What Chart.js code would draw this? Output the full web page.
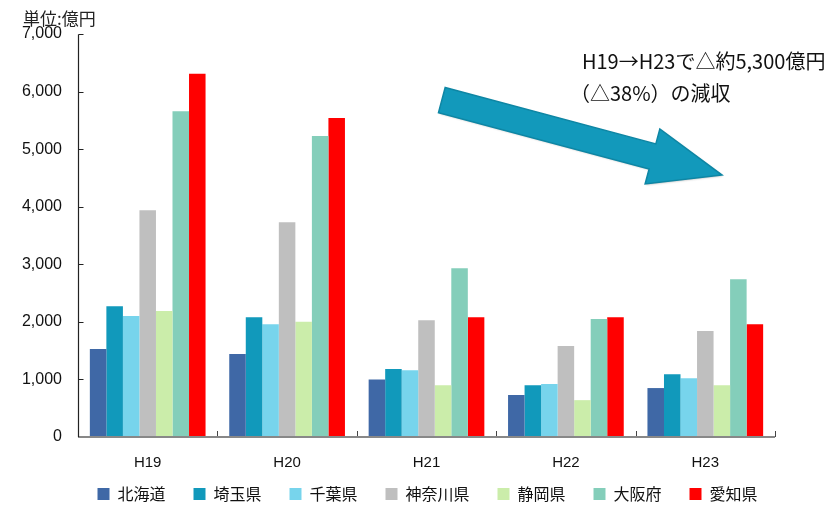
<!DOCTYPE html>
<html lang="ja">
<head>
<meta charset="utf-8">
<title>都道府県別 税収の推移</title>
<script src="https://cdn.jsdelivr.net/npm/chart.js@4/dist/chart.umd.min.js"></script>
<style>
  html, body { margin: 0; padding: 0; background: #fff; }
  #wrap { position: relative; width: 836px; height: 505px; }
  canvas { display: block; }
</style>
</head>
<body>
<div id="wrap"><canvas id="chart" width="836" height="505"></canvas></div>
<script>
// 年度（平成）
const years = ['H19', 'H20', 'H21', 'H22', 'H23'];

// 都道府県別の値（単位：億円）
const hokkaido  = [1530, 1440, 1000, 730, 850];
const saitama   = [2270, 2080, 1180, 900, 1090];
const chiba     = [2100, 1960, 1160, 920, 1020];
const kanagawa  = [3940, 3730, 2030, 1580, 1840];
const shizuoka  = [2190, 2000, 900, 640, 900];
const osaka     = [5660, 5230, 2930, 2050, 2740];
const aichi     = [6310, 5540, 2080, 2080, 1960];

const prefNames = ['北海道', '埼玉県', '千葉県', '神奈川県', '静岡県', '大阪府', '愛知県'];
const prefColors = ['#3F68A6', '#1199BB', '#77D4EC', '#BFBFBF', '#CBEDAA', '#84CEBA', '#FF0000'];
const prefValues = [hokkaido, saitama, chiba, kanagawa, shizuoka, osaka, aichi];

// 縦軸の目盛り
const yTicks = [0, 1000, 2000, 3000, 4000, 5000, 6000, 7000];

const unitLabel = '単位:億円';
const noteLines = ['H19→H23で△約5,300億円', '（△38%）の減収'];

const latinFont = '"Liberation Sans", "Noto Sans CJK JP", sans-serif';
const cjkFont = '"Noto Sans CJK JP", "Liberation Sans", sans-serif';

// 凡例を横軸ラベルの下へ、やや右寄りに置く
const legendPlacement = {
  id: 'legendPlacement',
  afterLayout(chart) {
    const lg = chart.legend;
    if (!lg) return;
    const ca = chart.chartArea;
    const pad = lg.options.labels.padding;
    const itemH = lg.options.labels.font.size;
    const centerY = ca.bottom + 57;
    const shiftX = 40;
    lg.top = centerY - pad - itemH / 2;
    lg.height = pad * 2 + itemH;
    lg.bottom = lg.top + lg.height;
    lg.left += shiftX;
    lg.right += shiftX;
  }
};

// 軸線・目盛り・矢印・注記を描くプラグイン
const decorations = {
  id: 'decorations',
  afterDraw(chart) {
    const ctx = chart.ctx;
    const ca = chart.chartArea;
    const x = chart.scales.x;
    const y = chart.scales.y;
    ctx.save();

    // 横軸の区切り目盛り（上向き）
    const half = (x.getPixelForValue(1) - x.getPixelForValue(0)) / 2;
    ctx.strokeStyle = '#444';
    ctx.lineWidth = 1;
    for (let i = 1; i <= years.length; i++) {
      const px = Math.round(x.getPixelForValue(i - 1) + half) + 0.5;
      ctx.beginPath();
      ctx.moveTo(px, ca.bottom);
      ctx.lineTo(px, ca.bottom - 6);
      ctx.stroke();
    }

    // 横軸
    ctx.strokeStyle = '#888';
    ctx.lineWidth = 2;
    ctx.beginPath();
    ctx.moveTo(ca.left, ca.bottom);
    ctx.lineTo(ca.right, ca.bottom);
    ctx.stroke();

    // 縦軸と内向きの目盛り
    const ax = Math.round(ca.left) + 0.5;
    const top = Math.round(y.getPixelForValue(yTicks[yTicks.length - 1])) + 0.5;
    ctx.strokeStyle = '#222';
    ctx.lineWidth = 1.2;
    ctx.beginPath();
    ctx.moveTo(ax, top);
    ctx.lineTo(ax, ca.bottom);
    yTicks.forEach(v => {
      if (v === 0) return;
      const py = Math.round(y.getPixelForValue(v)) + 0.5;
      ctx.moveTo(ax, py);
      ctx.lineTo(ax + 5, py);
    });
    ctx.stroke();

    // 単位
    ctx.fillStyle = '#222';
    ctx.font = '17px ' + cjkFont;
    ctx.textAlign = 'left';
    ctx.textBaseline = 'middle';
    ctx.fillText(unitLabel, ca.left - 55, ca.top - 15);

    // 減少を示す矢印
    const P = (fx, fy) => [ca.left + fx * ca.width, ca.top + fy * ca.height];
    const tail = P(0.522, 0.164);
    const tip = P(0.924, 0.350);
    const dx = tip[0] - tail[0], dy = tip[1] - tail[1];
    const len = Math.hypot(dx, dy);
    const ux = dx / len, uy = dy / len;
    const nx = -uy, ny = ux;
    const shaftHalf = 13, headHalf = 28.5, headLen = 72;
    const bx = tip[0] - ux * headLen, by = tip[1] - uy * headLen;
    const pts = [
      [tail[0] - nx * shaftHalf, tail[1] - ny * shaftHalf],
      [bx - nx * shaftHalf, by - ny * shaftHalf],
      [bx - nx * headHalf, by - ny * headHalf],
      tip,
      [bx + nx * headHalf, by + ny * headHalf],
      [bx + nx * shaftHalf, by + ny * shaftHalf],
      [tail[0] + nx * shaftHalf, tail[1] + ny * shaftHalf]
    ];
    ctx.beginPath();
    pts.forEach((p, i) => (i ? ctx.lineTo(p[0], p[1]) : ctx.moveTo(p[0], p[1])));
    ctx.closePath();
    ctx.shadowColor = 'rgba(0,0,0,0.25)';
    ctx.shadowBlur = 2;
    ctx.shadowOffsetX = 1;
    ctx.shadowOffsetY = 1;
    ctx.fillStyle = '#1299BB';
    ctx.fill();
    ctx.shadowColor = 'transparent';
    ctx.strokeStyle = '#0E86A4';
    ctx.lineWidth = 1.5;
    ctx.lineJoin = 'miter';
    ctx.stroke();

    // 注記
    ctx.fillStyle = '#111';
    ctx.font = '20px ' + cjkFont;
    ctx.textAlign = 'left';
    ctx.textBaseline = 'middle';
    const noteX = ca.left + 0.723 * ca.width;
    ctx.fillText(noteLines[0], noteX, ca.top + 27);
    ctx.fillText(noteLines[1], noteX - 12, ca.top + 59);

    ctx.restore();
  }
};

new Chart(document.getElementById('chart'), {
  type: 'bar',
  data: {
    labels: years,
    datasets: prefNames.map((name, i) => ({
      label: name,
      data: prefValues[i],
      backgroundColor: prefColors[i],
      borderWidth: 0,
      categoryPercentage: 0.83,
      barPercentage: 1.0
    }))
  },
  options: {
    responsive: false,
    animation: false,
    devicePixelRatio: 1,
    layout: { padding: { top: 34, left: 0, right: 61, bottom: 4 } },
    plugins: {
      tooltip: { enabled: false },
      legend: {
        position: 'bottom',
        maxHeight: 22,
        labels: {
          boxWidth: 12,
          boxHeight: 12,
          padding: 28,
          color: '#111',
          font: { family: cjkFont, size: 16 }
        }
      }
    },
    scales: {
      x: {
        grid: { display: false, drawTicks: false },
        border: { display: false },
        ticks: {
          color: '#111',
          padding: 17,
          font: { family: latinFont, size: 15 }
        },
        afterFit(scale) { scale.height = 42; }
      },
      y: {
        min: 0,
        max: 7000,
        grid: { display: false, drawTicks: false },
        border: { display: false },
        afterBuildTicks(scale) { scale.ticks = yTicks.map(v => ({ value: v })); },
        ticks: {
          color: '#111',
          padding: 16,
          font: { family: latinFont, size: 16 },
          callback: v => v.toLocaleString('en-US')
        },
        afterFit(scale) { scale.width = 78; }
      }
    }
  },
  plugins: [legendPlacement, decorations]
});
</script>
</body>
</html>
